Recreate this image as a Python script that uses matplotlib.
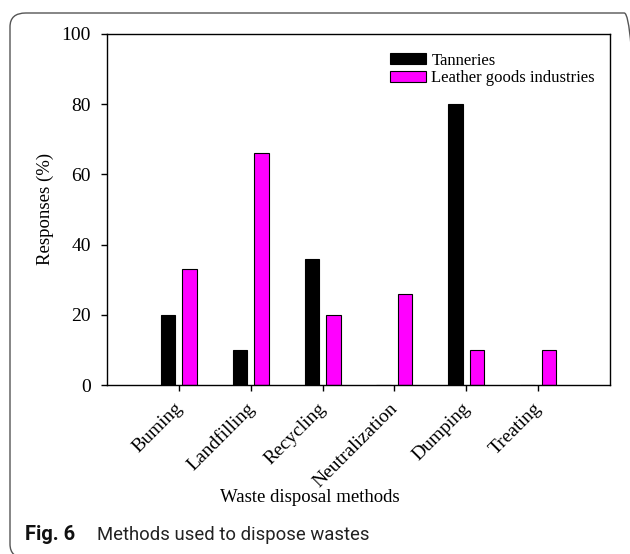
import matplotlib
matplotlib.use("Agg")
import matplotlib.pyplot as plt
import matplotlib.transforms as mtransforms
import numpy as np
from matplotlib.patches import FancyBboxPatch

categories = ["Buming", "Landfilling", "Recycling", "Neutralization", "Dumping", "Treating"]
tanneries = [20, 10, 36, 0, 80, 0]
leather = [33, 66, 20, 26, 10, 10]
yticks = [0, 20, 40, 60, 80, 100]

W, H = 630, 554
fig = plt.figure(figsize=(W/100, H/100), dpi=100)

# rounded frame
frame = FancyBboxPatch((10/W, -4/H), (640-10)/W, (554-13+4)/H,
                       boxstyle="round,pad=0,rounding_size=0.025",
                       transform=fig.transFigure, fill=False,
                       edgecolor="#555555", linewidth=1.0, clip_on=False)
fig.patches.append(frame)

ax = fig.add_axes([107/W, 1-385/H, (610-107)/W, (385-34)/H])
serif = "Liberation Serif"
x = np.arange(len(categories))
w = 0.2
ax.bar(x-0.15, tanneries, w, color="black", edgecolor="black", linewidth=0.8, label="Tanneries")
ax.bar(x+0.15, leather, w, color="#ff00ff", edgecolor="black", linewidth=0.8, label="Leather goods industries")
ax.set_xlim(-1, 6)
ax.set_ylim(0, 100)
ax.set_yticks(yticks)
ax.set_yticklabels([str(v) for v in yticks], fontfamily=serif, fontsize=14)
ax.set_xticks(x)
ax.set_xticklabels(categories, rotation=45, ha="right", rotation_mode="anchor",
                   fontfamily=serif, fontsize=14)
ax.tick_params(direction="out", length=4.5, width=1)
ax.tick_params(axis="y", pad=7)
ax.tick_params(axis="x", pad=6)
offset = mtransforms.ScaledTranslation(-5/100, 0, fig.dpi_scale_trans)
for lbl in ax.get_xticklabels():
    lbl.set_transform(lbl.get_transform() + offset)
for s in ax.spines.values():
    s.set_linewidth(1.0)

fig.text(45/W, 1-209/H, "Responses (%)", fontfamily=serif, fontsize=13.5,
         rotation=90, ha="center", va="center")
fig.text(310/W, 1-497/H, "Waste disposal methods", fontfamily=serif, fontsize=13.5,
         ha="center", va="center")

leg = ax.legend(loc="upper right", frameon=False, prop={"family": serif, "size": 12},
                handlelength=2.2, handleheight=0.6, handletextpad=0.3,
                labelspacing=0.1, bbox_to_anchor=(1.0, 0.99))

fig.text(25/W, 1-535/H, "Fig. 6", fontsize=14.5, va="center", family="Roboto",
         fontweight="bold", color="#111111")
fig.text(97/W, 1-535/H, "Methods used to dispose wastes", fontsize=13.3, va="center",
         family="Roboto", color="#222222")

fig.savefig("out.png", dpi=100)
